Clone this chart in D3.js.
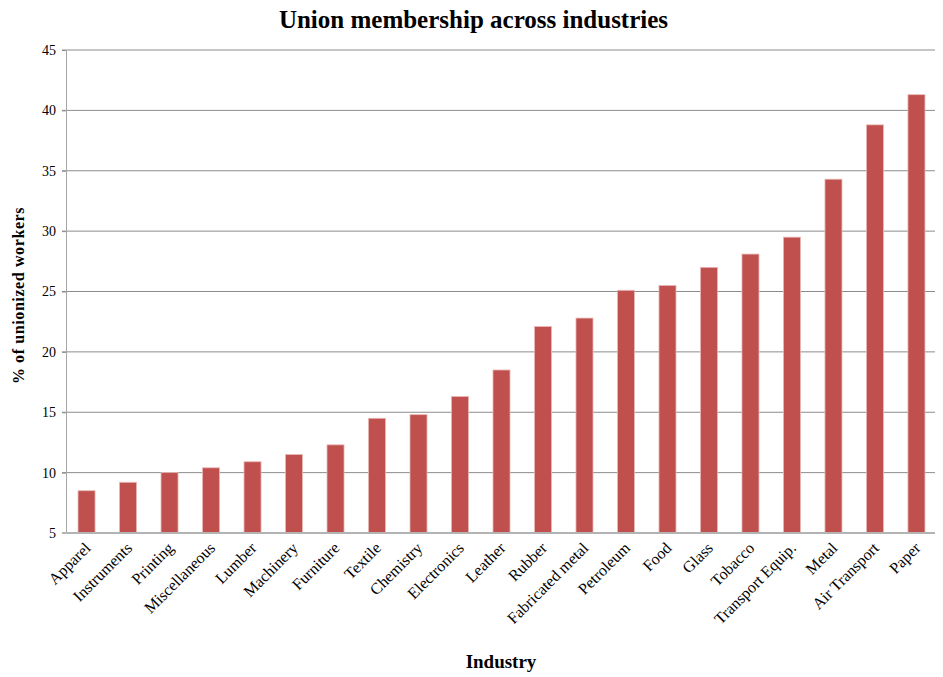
<!DOCTYPE html>
<html>
<head>
<meta charset="utf-8">
<script src="https://cdn.jsdelivr.net/npm/d3@7"></script>
<style>
  body { margin: 0; background: #fff; }
  svg text { font-family: "Liberation Serif", "DejaVu Serif", serif; fill: #000; }
</style>
</head>
<body>
<div id="chart"></div>
<script>
// industries, sorted by share
const industries = ["Apparel", "Instruments", "Printing", "Miscellaneous", "Lumber", "Machinery",
  "Furniture", "Textile", "Chemistry", "Electronics", "Leather", "Rubber", "Fabricated metal",
  "Petroleum", "Food", "Glass", "Tobacco", "Transport Equip.", "Metal", "Air Transport", "Paper"];
const unionized = [8.5, 9.2, 10.0, 10.4, 10.9, 11.5, 12.3, 14.5, 14.8, 16.3, 18.5, 22.1, 22.8,
  25.1, 25.5, 27.0, 28.1, 29.5, 34.3, 38.8, 41.3];
const yTicks = [5, 10, 15, 20, 25, 30, 35, 40, 45];

const width = 943, height = 677;
const margin = { top: 50, right: 6, bottom: 144, left: 66 };

const svg = d3.select("#chart").append("svg")
  .attr("width", width)
  .attr("height", height);

const x = d3.scaleBand()
  .domain(industries)
  .range([margin.left, width - margin.right])
  .paddingInner(0.59)
  .paddingOuter(0.29);

const y = d3.scaleLinear()
  .domain([5, 45])
  .range([height - margin.bottom, margin.top]);

// grid lines
svg.append("g")
  .selectAll("line")
  .data(yTicks.slice(1))
  .join("line")
  .attr("x1", margin.left - 4)
  .attr("x2", width - 8)
  .attr("y1", d => y(d))
  .attr("y2", d => y(d))
  .attr("stroke", "#8c8c8c")
  .attr("stroke-width", 1);

// y axis
const yAxis = svg.append("g")
  .attr("transform", `translate(${margin.left},0)`)
  .call(d3.axisLeft(y).tickValues(yTicks).tickSize(4).tickPadding(6));
yAxis.select(".domain").attr("stroke", "#a6a6a6");
yAxis.selectAll(".tick line").attr("stroke", "#8c8c8c");
yAxis.selectAll("text").attr("font-size", 14).attr("fill", "#333");

// bars
svg.append("g")
  .selectAll("rect")
  .data(industries)
  .join("rect")
  .attr("x", d => x(d))
  .attr("width", x.bandwidth())
  .attr("y", (d, i) => y(unionized[i]))
  .attr("height", (d, i) => y(5) - y(unionized[i]))
  .attr("fill", "#c0504d")
  .attr("stroke", "#e8b8b7")
  .attr("stroke-width", 0.8);

// baseline
svg.append("line")
  .attr("x1", margin.left - 4)
  .attr("x2", width - 8)
  .attr("y1", y(5))
  .attr("y2", y(5))
  .attr("stroke", "#b3b3b3")
  .attr("stroke-width", 2);

// x labels
svg.append("g")
  .selectAll("text")
  .data(industries)
  .join("text")
  .attr("transform", d => `translate(${x(d) + x.bandwidth() / 2 + 5},${y(5) + 16}) rotate(-45)`)
  .attr("text-anchor", "end")
  .attr("font-size", 16)
  .text(d => d);

// title
svg.append("text")
  .attr("x", width / 2 + 2)
  .attr("y", 28)
  .attr("text-anchor", "middle")
  .attr("font-size", 25)
  .attr("font-weight", "bold")
  .text("Union membership across industries");

svg.append("text")
  .attr("x", 501)
  .attr("y", 668)
  .attr("text-anchor", "middle")
  .attr("font-size", 19)
  .attr("font-weight", "bold")
  .text("Industry");

svg.append("text")
  .attr("transform", `translate(24,${(y(5) + y(45)) / 2 + 4}) rotate(-90)`)
  .attr("text-anchor", "middle")
  .attr("font-size", 16)
  .attr("font-weight", "bold")
  .attr("letter-spacing", 0.6)
  .text("% of unionized workers");
</script>
</body>
</html>
